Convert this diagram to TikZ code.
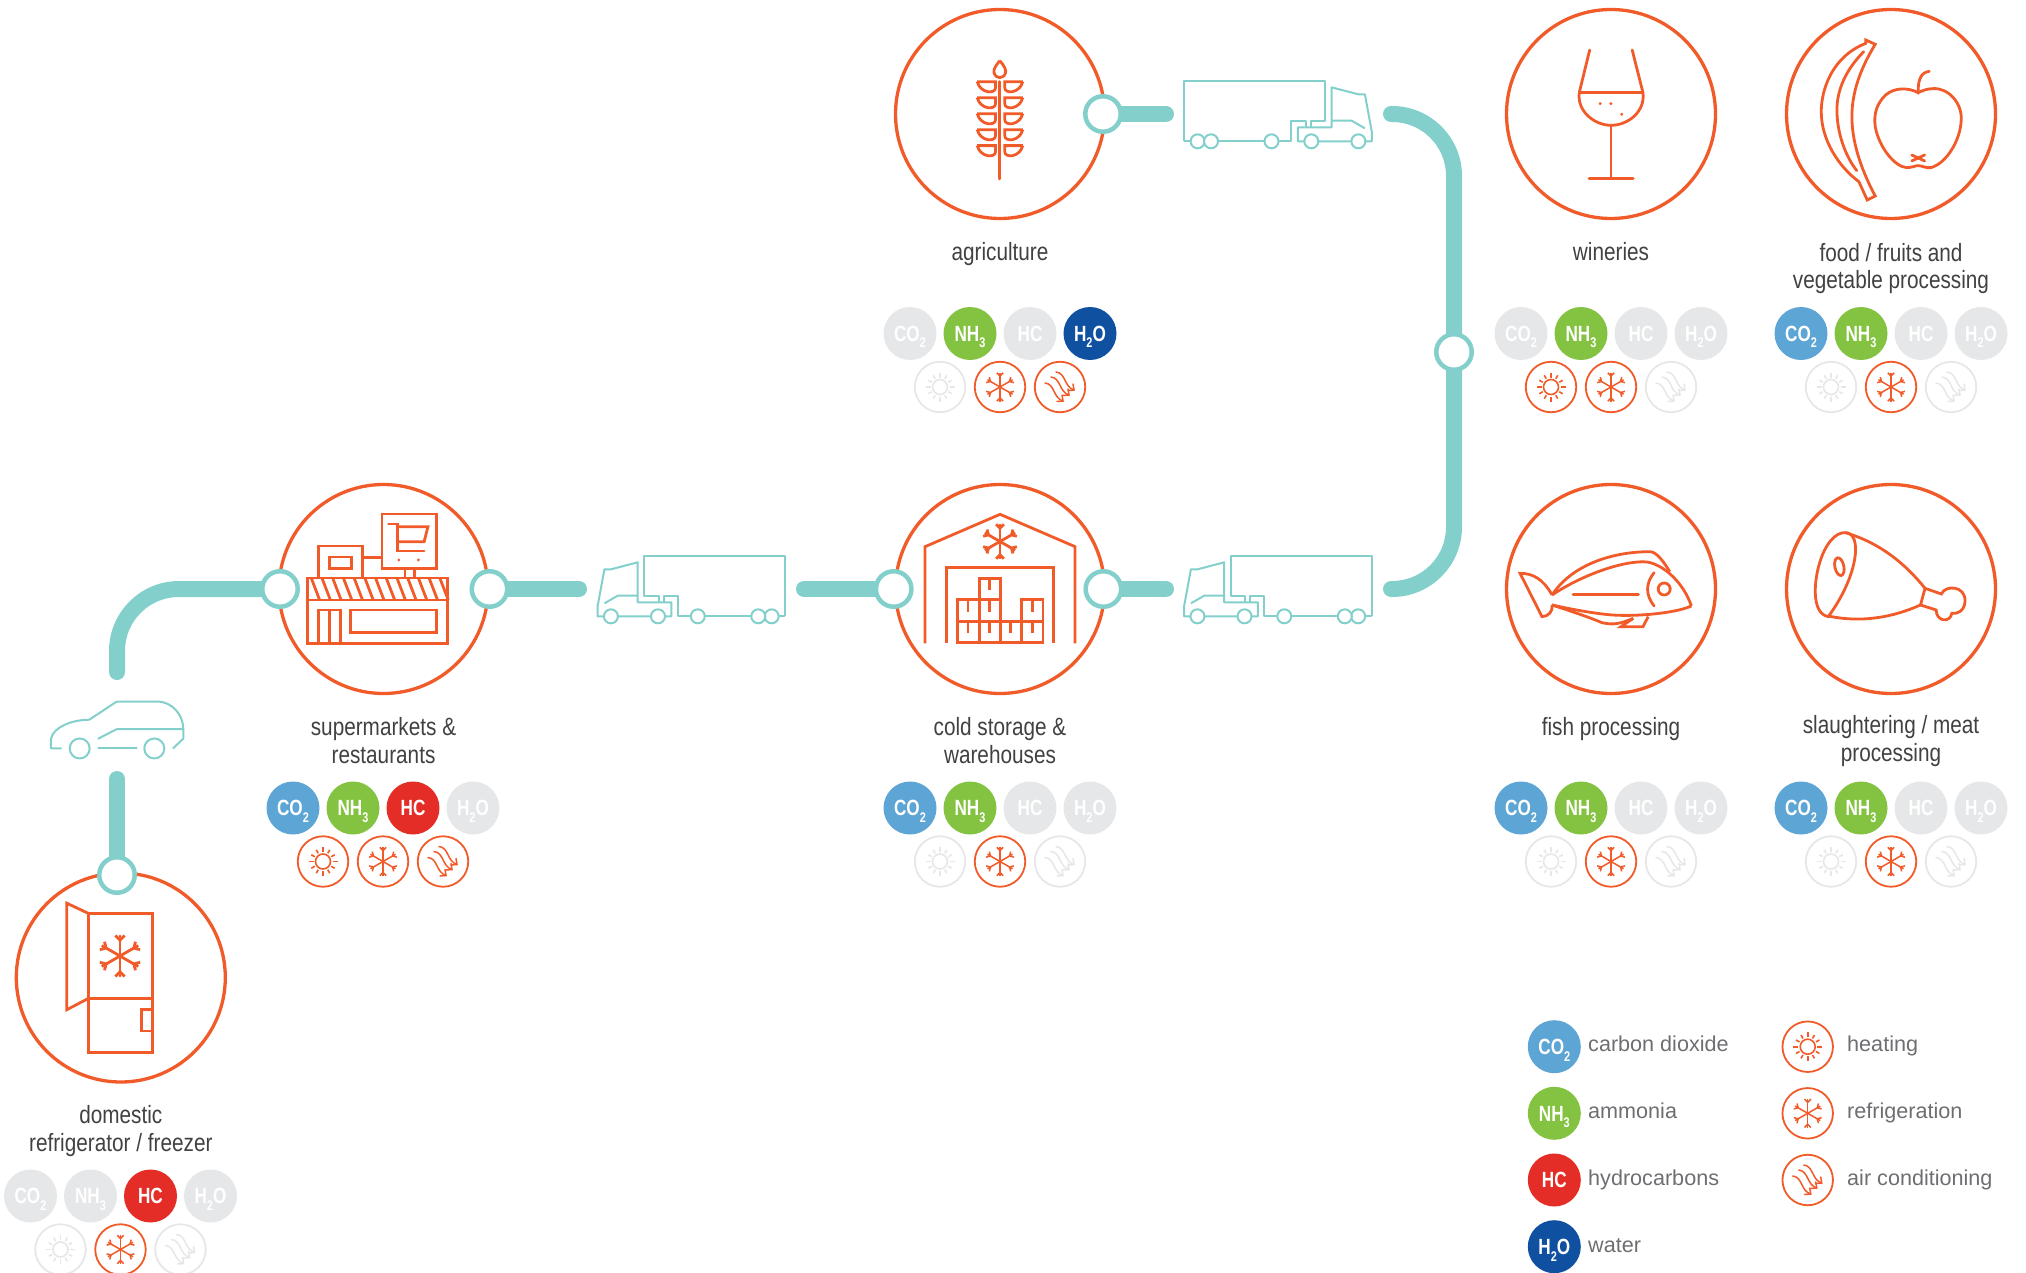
\documentclass[tikz,border=0pt]{standalone}
\usepackage{fontspec}
\usetikzlibrary{backgrounds}
\setmainfont{Liberation Sans}
\newfontfamily\chipf[FakeStretch=0.78]{Liberation Sans}
\newfontfamily\labf[FakeStretch=0.83]{Liberation Sans}
\definecolor{org}{HTML}{F15A29}
\definecolor{teal}{HTML}{82CFCB}
\definecolor{cblue}{HTML}{5CA5D4}
\definecolor{cgreen}{HTML}{84C341}
\definecolor{cred}{HTML}{E42D26}
\definecolor{cnavy}{HTML}{0F50A0}
\definecolor{dim}{HTML}{E6E7E9}
\definecolor{labc}{HTML}{414042}
\definecolor{legc}{HTML}{6D6E71}
\newcommand\sbs[1]{\raisebox{-.3em}{\fontsize{14}{14}\selectfont #1}}
\newcommand\sunicon{%
  \draw[line width=1.6pt] (0,0) circle[radius=7.5];
  \foreach \a in {0,90,180,270} \draw[line width=1.6pt] (\a:9.5)--(\a:14.5);
  \foreach \a in {30,60,120,150,210,240,300,330} \draw[line width=1.6pt] (\a:9.5)--(\a:13.5);
}
\newcommand\snowicon[3]{% radius, fork, width
  \foreach \a in {30,90,150,210,270,330}{
    \draw[line width=#3pt] (0,0)--(\a:#1);
    \draw[line width=#3pt] (\a:{.76*#1}) -- ++({\a+45}:#2);
    \draw[line width=#3pt] (\a:{.76*#1}) -- ++({\a-45}:#2);
  }
}
\newcommand\airicon{%
  \foreach \p/\q in {-15/-4,-9/-10,-4/-15}{
    \draw[line width=1.5pt,line cap=round] (\p,\q) .. controls ({\p+10},{\q+1}) and ({\p+8},{\q+15}) .. ({\p+18},{\q+18});
    \draw[line width=1.5pt,line cap=round] ({\p+12},{\q+18.5}) -- ({\p+18},{\q+18}) -- ({\p+17},{\q+12});
  }
}
\newcommand\chiprow[7]{%
  \node[chipc,fill=#4] (#1a) at ({#2-90},#3) {CO\sbs{2}};
  \node[chipc,fill=#5] (#1b) at ({#2-30},#3) {NH\sbs{3}};
  \node[chipc,fill=#6] (#1c) at ({#2+30},#3) {HC};
  \node[chipc,fill=#7] (#1d) at ({#2+90},#3) {H\sbs{2}O};
}
\newcommand\ringrow[6]{%
  \node[ringc,draw=#4] (#1s) at ({#2-60},#3) {};
  \node[ringc,draw=#5] (#1f) at (#2,#3) {};
  \node[ringc,draw=#6] (#1w) at ({#2+60},#3) {};
  \begin{scope}[shift={(#1s.center)},color=#4]\sunicon\end{scope}
  \begin{scope}[shift={(#1f.center)},color=#5]\snowicon{14.5}{4.5}{1.5}\end{scope}
  \begin{scope}[shift={(#1w.center)},color=#6]\airicon\end{scope}
}
\tikzset{
  maincirc/.style={circle,draw=org,line width=3.3pt,minimum size=209pt,inner sep=0pt,outer sep=0pt},
  portc/.style={circle,draw=teal,fill=white,line width=4.5pt,minimum size=35.5pt,inner sep=0pt,outer sep=0pt},
  chipc/.style={circle,minimum size=53pt,inner sep=0pt,outer sep=0pt,text=white,text height=15.5pt,text depth=0pt,font=\chipf\bfseries\fontsize{22}{22}\selectfont},
  ringc/.style={circle,fill=white,line width=1.8pt,minimum size=50.5pt,inner sep=0pt,outer sep=0pt},
  lab/.style={align=center,text=labc,anchor=base,inner sep=0pt,font=\labf\fontsize{25}{28}\selectfont},
  leg/.style={anchor=base west,text=legc,inner sep=0pt,font=\fontsize{21.6}{21.6}\selectfont},
  route/.style={draw=teal,line width=16pt,line cap=round},
  thin/.style={draw=teal,line width=2pt,line join=round},
  ico/.style={draw=org,line width=2.8pt,line join=miter},
  zA/.style={x=.3827pt,y=-.3333pt},
  zB/.style={x=.3482pt,y=-.3333pt},
  zC/.style={x=.3333pt,y=-.3782pt}
}
\newcommand\truckicon{%
  \draw[thin] (795,424)--(795,242)--(1163,242)--(1163,362)--(1125,362)--(1125,380);
  \draw[thin] (795,424)--(1075,424)--(1075,362)--(1112,362)--(1112,382);
  \draw[thin] (1180,262)--(1180,382)--(1092,382)--(1092,424)--(1285,424)--(1285,395)--(1267,283)--(1250,283)--cycle;
  \draw[thin] (1267,385)--(1232,362)--(1180,362);
  \foreach \w in {830,865,1023,1127,1250} \draw[thin,fill=white] (\w,424) circle[radius=7pt];
}
\begin{document}
\begin{tikzpicture}[x=1pt,y=-1pt]
\useasboundingbox (0,0) rectangle (2026,1273);
% main circles
\node[maincirc] (agri) at (1000,114) {};
\node[maincirc] (wine) at (1611,114) {};
\node[maincirc] (food) at (1891,114) {};
\node[maincirc] (super) at (383.5,589) {};
\node[maincirc] (cold) at (1000,589) {};
\node[maincirc] (fish) at (1611,589) {};
\node[maincirc] (meat) at (1891,589) {};
\node[maincirc] (fridge) at (120.8,977.5) {};
% ports
\node[portc] (pAgri) at (1103,114) {};
\node[portc] (pVert) at (1454,352) {};
\node[portc] (pSupL) at (280,589) {};
\node[portc] (pSupR) at (489.5,589) {};
\node[portc] (pColL) at (893.7,589) {};
\node[portc] (pColR) at (1103.4,589) {};
\node[portc] (pFri) at (117,875) {};
% free ends
\coordinate (eAgri) at (1166,114);
\coordinate (eTop) at (1391,114);
\coordinate (eBot) at (1391,589);
\coordinate (eColR) at (1166,589);
\coordinate (eColL) at (804,589);
\coordinate (eSupR) at (579,589);
\coordinate (eCarD) at (117,779);
\coordinate (eCarU) at (117,672);
\begin{scope}[on background layer]
\draw[route] (pAgri.center) -- (eAgri);
\draw[route,rounded corners=62pt] (eTop) -| (pVert.center);
\draw[route,rounded corners=62pt] (pVert.center) |- (eBot);
\draw[route] (pColR.center) -- (eColR);
\draw[route] (pColL.center) -- (eColL);
\draw[route] (pSupR.center) -- (eSupR);
\draw[route,rounded corners=62pt] (eCarU) |- (pSupL.center);
\draw[route] (pFri.center) -- (eCarD);
\end{scope}
% trucks
\begin{scope}[shift={(880,0)},zA]\truckicon\end{scope}
\begin{scope}[shift={(1675.8,475)},x=-.3827pt,y=-.3333pt]\truckicon\end{scope}
\begin{scope}[shift={(1089.3,475)},x=-.3827pt,y=-.3333pt]\truckicon\end{scope}
% car
\begin{scope}[shift={(0,680)},zC]
\draw[thin,line cap=round] (183,181)--(153,181)--(153,155) .. controls (160,125) and (215,105) .. (268,105) -- (350,57) -- (470,57) .. controls (520,57) and (550,95) .. (550,130) -- (550,155) -- (520,180);
\draw[thin,line cap=round] (295,155)--(350,130)--(550,130);
\draw[thin,line cap=round] (295,181)--(410,181);
\draw[thin] (239,181) circle[radius=10pt];
\draw[thin] (463,181) circle[radius=10pt];
\end{scope}
% wheat
\begin{scope}[shift={(880,0)},zA]
\draw[ico,line cap=round] (313,245)--(313,537);
\draw[ico] (313,182) .. controls (300,200) and (296,210) .. (298,218) .. controls (302,238) and (324,238) .. (328,218) .. controls (330,210) and (326,200) .. (313,182);
\foreach \y in {245,293,341,389,437}{
  \draw[ico] (254,\y)--(302,\y)--({302},{\y+18}) .. controls (302,{\y+38}) and (262,{\y+36}) .. (254,\y);
  \draw[ico] (373,\y)--(326,\y)--(326,{\y+18}) .. controls (326,{\y+38}) and (365,{\y+36}) .. (373,\y);
}
\end{scope}
% wine glass
\begin{scope}[shift={(1480,0)},zB]
\draw[ico,line cap=round] (315,150)--(285,278);
\draw[ico,line cap=round] (437,150)--(468,278);
\draw[ico] (285,278)--(468,278);
\draw[ico] (285,278) .. controls (278,335) and (330,376) .. (376,376) .. controls (425,376) and (475,335) .. (468,278);
\draw[ico] (376,376)--(376,535);
\draw[ico,line cap=round] (313,535)--(440,535);
\fill[org] (345,311) circle[radius=1.6pt] (376,311) circle[radius=1.6pt] (407,343) circle[radius=1.6pt];
\end{scope}
% banana + apple
\begin{scope}[shift={(1480,0)},zB]
\draw[ico] (1108,120)--(1135,133) .. controls (1090,210) and (1068,280) .. (1068,350) .. controls (1068,420) and (1090,500) .. (1135,588) -- (1112,600) -- (1088,545) .. controls (1030,500) and (980,420) .. (980,335) .. controls (980,270) and (1010,170) .. (1108,130) -- cycle;
\draw[ico,line cap=round] (1102,155) .. controls (1050,210) and (1025,270) .. (1025,330) .. controls (1025,400) and (1050,470) .. (1082,512);
\draw[ico,line cap=round] (1258,280) .. controls (1258,240) and (1265,218) .. (1290,214);
\draw[ico] (1258,278) .. controls (1230,262) and (1190,262) .. (1165,285) .. controls (1140,310) and (1130,340) .. (1135,380) .. controls (1145,440) and (1190,500) .. (1225,503) .. controls (1240,503) and (1250,497) .. (1258,497) .. controls (1270,497) and (1280,505) .. (1295,503) .. controls (1340,490) and (1380,420) .. (1382,360) .. controls (1385,310) and (1345,262) .. (1300,266) .. controls (1285,266) and (1270,272) .. (1258,278);
\draw[ico,line cap=round] (1240,465)--(1277,483);
\draw[ico,line cap=round] (1240,483)--(1277,465);
\end{scope}
% fish + meat
\begin{scope}[shift={(1480,470)},zB]
\draw[ico] (207,375) .. controls (180,325) and (150,310) .. (115,310) -- (178,440) .. controls (195,440) and (210,425) .. (207,405);
\draw[ico] (207,375) .. controls (260,290) and (370,245) .. (490,245) .. controls (510,248) and (530,280) .. (545,305);
\draw[ico] (207,375) .. controls (300,310) and (420,270) .. (480,276) .. controls (530,285) and (585,340) .. (607,408);
\draw[ico] (607,408) .. controls (560,430) and (450,440) .. (380,435) .. controls (320,430) and (250,415) .. (207,405);
\draw[ico] (207,405) .. controls (250,420) and (310,440) .. (350,458) .. controls (380,465) and (400,463) .. (440,445);
\draw[ico] (440,445)--(405,470)--(468,470)--(483,440);
\draw[ico,line cap=round] (267,374)--(455,374);
\draw[ico,line cap=round] (500,308) .. controls (475,340) and (475,375) .. (500,408);
\draw[ico] (529,357) circle[radius=6pt];
%
\draw[ico] (1050,188) .. controls (1100,190) and (1085,320) .. (1000,440) .. controls (950,430) and (960,330) .. (975,280) .. controls (990,225) and (1020,185) .. (1050,188);
\draw[ico] (1050,188) .. controls (1150,220) and (1220,280) .. (1278,355) -- (1265,405);
\draw[ico] (1000,438) .. controls (1100,460) and (1190,440) .. (1265,405);
\draw[ico] (1278,355)--(1325,372) .. controls (1335,345) and (1395,345) .. (1393,395) .. controls (1390,425) and (1370,432) .. (1355,430) .. controls (1350,460) and (1310,455) .. (1310,420) -- (1265,405);
\draw[ico] (1032,290) circle[x radius=4.5pt,y radius=9pt,rotate=12];
\end{scope}
% supermarket
\begin{scope}[shift={(250,470)},zA]
\draw[ico] (150,324) rectangle (516,520);
\draw[ico] (150,390)--(516,390);
\foreach \x in {160,188,...,500} \draw[draw=org,line width=2.8pt] (\x,324)--({\x+22},390);
\draw[ico] (178,520)--(178,420)--(237,420)--(237,520);
\draw[ico] (207,420)--(207,520);
\draw[ico] (263,420) rectangle (488,488);
\draw[ico] (178,324)--(178,228)--(293,228)--(293,324);
\draw[ico] (207,261) rectangle (265,295);
\draw[ico] (293,262)--(345,262);
\draw[ico] (345,132) rectangle (488,296);
\draw[ico] (405,296)--(405,324);
\draw[ico] (430,296)--(430,324);
\draw[ico,line cap=round] (362,162)--(385,162)--(385,243)--(455,243);
\draw[ico] (385,170)--(465,170)--(455,215)--(385,215);
\fill[org] (389,270) circle[radius=1.6pt] (440,270) circle[radius=1.6pt];
\end{scope}
% warehouse
\begin{scope}[shift={(860,470)},zA]
\draw[ico] (170,520)--(170,230)--(366,133)--(562,230)--(562,520);
\draw[ico] (226,520)--(226,293)--(506,293)--(506,520);
\draw[ico] (254,455) rectangle (478,518);
\draw[ico] (312,455)--(312,518) (368,455)--(368,518) (423,455)--(423,518);
\draw[ico] (254,455)--(254,388)--(368,388)--(368,455) (312,455)--(312,325)--(368,325)--(368,388);
\draw[ico] (423,455)--(423,388)--(478,388)--(478,455);
\foreach \x in {282,338,394,450} \draw[ico] (\x,455)--(\x,490);
\foreach \x in {282,338,450} \draw[ico] (\x,388)--(\x,425);
\draw[ico] (338,325)--(338,360);
\end{scope}
\begin{scope}[shift={(1000,541.5)},color=org]\snowicon{17.5}{5.5}{2.8}\end{scope}
% fridge
\begin{scope}[shift={(0,680)},zC]
\draw[ico] (265,617) rectangle (458,985);
\draw[ico] (265,842)--(458,842);
\draw[ico] (458,872)--(424,872)--(424,928)--(458,928);
\draw[ico] (265,617)--(200,590)--(200,872)--(265,842);
\end{scope}
\begin{scope}[shift={(120,956)},color=org]\snowicon{21}{6.5}{2.8}\end{scope}
% labels
\node[lab] (lAgri) at (1000,261) {agriculture};
\node[lab] (lWine) at (1611,261) {wineries};
\node[lab] (lFood) at (1891,289) {food / fruits and\\vegetable processing};
\node[lab] (lSup) at (383.5,763) {supermarkets \&\\restaurants};
\node[lab] (lCold) at (1000,763) {cold storage \&\\warehouses};
\node[lab] (lFish) at (1611,735) {fish processing};
\node[lab] (lMeat) at (1891,761) {slaughtering / meat\\processing};
\node[lab] (lFri) at (120.8,1151) {domestic\\refrigerator / freezer};
% chips
\chiprow{cA}{1000}{333.5}{dim}{cgreen}{dim}{cnavy}
\ringrow{rA}{1000}{387}{dim}{org}{org}
\chiprow{cW}{1611}{333.5}{dim}{cgreen}{dim}{dim}
\ringrow{rW}{1611}{387}{org}{org}{dim}
\chiprow{cF}{1891}{333.5}{cblue}{cgreen}{dim}{dim}
\ringrow{rF}{1891}{387}{dim}{org}{dim}
\chiprow{cS}{383}{808}{cblue}{cgreen}{cred}{dim}
\ringrow{rS}{383}{861.5}{org}{org}{org}
\chiprow{cC}{1000}{808}{cblue}{cgreen}{dim}{dim}
\ringrow{rC}{1000}{861.5}{dim}{org}{dim}
\chiprow{cP}{1611}{808}{cblue}{cgreen}{dim}{dim}
\ringrow{rP}{1611}{861.5}{dim}{org}{dim}
\chiprow{cM}{1891}{808}{cblue}{cgreen}{dim}{dim}
\ringrow{rM}{1891}{861.5}{dim}{org}{dim}
\chiprow{cR}{120.5}{1196}{dim}{dim}{cred}{dim}
\ringrow{rR}{120.5}{1249.5}{dim}{org}{dim}
% legend
\node[chipc,fill=cblue] (k1) at (1554.3,1046.7) {CO\sbs{2}};
\node[chipc,fill=cgreen] (k2) at (1554.3,1113.3) {NH\sbs{3}};
\node[chipc,fill=cred] (k3) at (1554.3,1180) {HC};
\node[chipc,fill=cnavy] (k4) at (1554.3,1246.7) {H\sbs{2}O};
\node[leg] (t1) at (1588,1051) {carbon dioxide};
\node[leg] (t2) at (1588,1118) {ammonia};
\node[leg] (t3) at (1588,1185) {hydrocarbons};
\node[leg] (t4) at (1588,1252) {water};
\node[ringc,draw=org] (h1) at (1807.7,1046.7) {};
\node[ringc,draw=org] (h2) at (1807.7,1113.3) {};
\node[ringc,draw=org] (h3) at (1807.7,1180) {};
\begin{scope}[shift={(h1.center)},color=org]\sunicon\end{scope}
\begin{scope}[shift={(h2.center)},color=org]\snowicon{14.5}{4.5}{1.5}\end{scope}
\begin{scope}[shift={(h3.center)},color=org]\airicon\end{scope}
\node[leg] (u1) at (1847,1051) {heating};
\node[leg] (u2) at (1847,1118) {refrigeration};
\node[leg] (u3) at (1847,1185) {air conditioning};
\end{tikzpicture}
\end{document}
